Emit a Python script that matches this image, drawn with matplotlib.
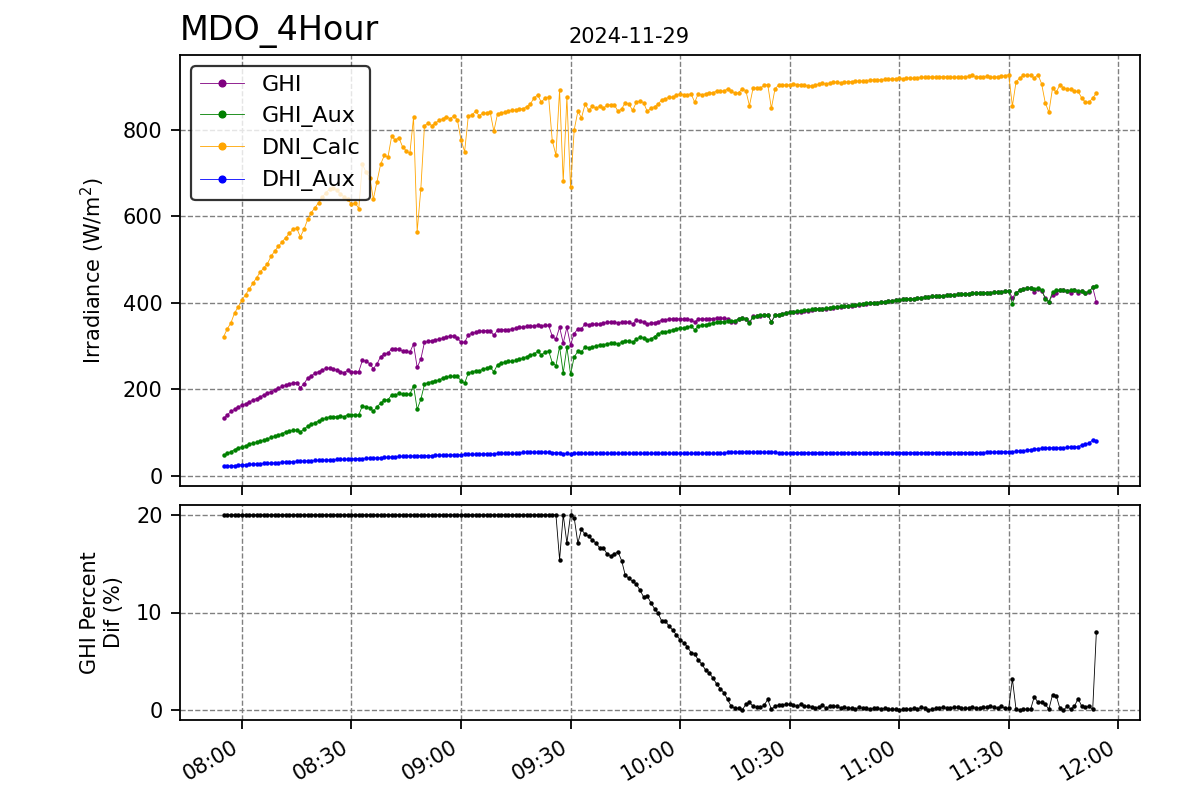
import matplotlib
matplotlib.use("Agg")
import matplotlib.pyplot as plt
import matplotlib.dates as mdates
import pandas as pd

# ---------------- data (one value per minute, 07:55 .. 11:54) ----------------
start_time = "2024-11-29 07:55"
n_points = 240
date_label = "2024-11-29"
station = "MDO_4Hour"

ghi = [
    133, 141, 149, 154, 160, 163, 167, 171, 175, 179,
    183, 187, 191, 195, 199, 203, 207, 210, 213, 215,
    216, 204, 213, 226, 231, 238, 241, 245, 249, 249,
    247, 245, 241, 239, 244, 240, 240, 241, 267, 266,
    259, 248, 259, 276, 282, 284, 294, 294, 293, 289,
    288, 286, 305, 251, 270, 309, 311, 313, 315, 316,
    318, 322, 323, 324, 319, 309, 309, 326, 330, 332,
    334, 336, 336, 336, 325, 337, 338, 338, 338, 340,
    342, 344, 344, 346, 346, 347, 348, 346, 348, 348,
    323, 316, 344, 307, 344, 303, 329, 340, 340, 352,
    348, 351, 351, 351, 354, 355, 356, 355, 354, 355,
    355, 356, 351, 360, 359, 355, 351, 354, 354, 357,
    360, 361, 363, 363, 363, 363, 363, 363, 361, 355,
    363, 363, 363, 364, 364, 365, 365, 365, 363, 357,
    357, 363, 365, 363, 355, 369, 369, 370, 371, 372,
    357, 371, 373, 375, 377, 378, 378, 379, 380, 381,
    382, 383, 385, 386, 386, 387, 388, 389, 390, 391,
    392, 393, 394, 395, 396, 397, 398, 399, 400, 401,
    402, 403, 404, 405, 406, 407, 408, 409, 410, 410,
    411, 412, 413, 414, 415, 415, 416, 417, 418, 418,
    419, 420, 420, 421, 421, 422, 422, 423, 423, 424,
    424, 425, 425, 426, 427, 428, 412, 423, 429, 432,
    434, 434, 425, 432, 428, 412, 403, 418, 423, 429,
    429, 427, 422, 429, 422, 427, 423, 426, 436, 402,
]

ghi_aux = [
    48, 52, 56, 61, 65, 67, 70, 73, 76, 78,
    81, 83, 86, 89, 92, 95, 98, 102, 104, 106,
    106, 102, 108, 115, 119, 123, 127, 131, 133, 137,
    137, 137, 139, 137, 142, 142, 141, 141, 162, 160,
    158, 149, 160, 168, 176, 176, 187, 187, 191, 189,
    189, 189, 209, 154, 177, 212, 216, 218, 220, 222,
    226, 228, 230, 230, 230, 220, 214, 238, 241, 243,
    243, 247, 249, 251, 241, 257, 261, 263, 265, 265,
    267, 270, 272, 276, 280, 282, 288, 280, 286, 289,
    262, 255, 299, 238, 298, 235, 275, 288, 286, 299,
    296, 298, 301, 303, 303, 306, 307, 307, 305, 309,
    313, 311, 309, 316, 321, 319, 315, 317, 322, 329,
    332, 332, 336, 338, 340, 341, 342, 344, 346, 338,
    346, 348, 350, 352, 354, 355, 356, 357, 359, 359,
    359, 363, 365, 363, 354, 368, 369, 371, 371, 373,
    355, 371, 373, 375, 377, 378, 380, 381, 382, 383,
    384, 385, 386, 387, 387, 388, 389, 390, 391, 392,
    393, 394, 395, 396, 397, 398, 399, 400, 400, 401,
    402, 403, 404, 405, 406, 407, 408, 409, 410, 410,
    411, 412, 413, 414, 415, 415, 416, 417, 418, 418,
    419, 420, 420, 421, 421, 422, 422, 423, 423, 424,
    424, 425, 425, 426, 427, 428, 398, 423, 429, 432,
    434, 434, 432, 435, 431, 410, 402, 425, 429, 429,
    429, 427, 429, 429, 427, 427, 423, 427, 436, 439,
]

dni_calc = [
    322, 340, 354, 377, 391, 406, 419, 432, 445, 458,
    471, 481, 491, 508, 520, 531, 541, 551, 561, 570,
    573, 553, 570, 593, 609, 620, 632, 644, 655, 663,
    665, 660, 652, 645, 640, 628, 632, 618, 721, 702,
    690, 640, 680, 721, 741, 737, 785, 777, 782, 761,
    752, 746, 829, 565, 663, 810, 816, 810, 816, 822,
    826, 831, 826, 832, 824, 777, 750, 832, 835, 843,
    833, 839, 839, 841, 797, 837, 839, 841, 843, 846,
    846, 849, 849, 854, 860, 874, 881, 864, 874, 876,
    775, 742, 893, 681, 876, 667, 800, 843, 828, 860,
    845, 855, 850, 855, 850, 858, 858, 858, 843, 849,
    863, 860, 845, 864, 867, 863, 843, 850, 854, 860,
    870, 872, 876, 876, 880, 884, 881, 881, 884, 864,
    884, 881, 884, 886, 886, 890, 890, 890, 895, 890,
    885, 886, 895, 891, 856, 897, 897, 897, 903, 905,
    850, 895, 904, 904, 904, 904, 907, 905, 905, 903,
    902, 902, 903, 906, 908, 906, 909, 910, 911, 909,
    911, 911, 912, 913, 913, 913, 914, 915, 916, 916,
    916, 917, 917, 918, 918, 919, 918, 920, 920, 919,
    921, 922, 922, 922, 923, 922, 923, 923, 923, 922,
    922, 922, 922, 923, 924, 926, 923, 923, 922, 924,
    922, 922, 923, 924, 925, 928, 855, 911, 920, 926,
    926, 926, 920, 928, 907, 863, 841, 897, 887, 904,
    897, 894, 894, 889, 889, 874, 864, 864, 874, 885,
]

dhi_aux = [
    22, 23, 23, 24, 25, 26, 26, 27, 27, 28,
    28, 29, 29, 30, 30, 31, 32, 32, 33, 33,
    34, 34, 35, 35, 35, 36, 36, 36, 37, 37,
    37, 38, 38, 38, 39, 39, 40, 40, 40, 41,
    41, 41, 42, 42, 43, 43, 44, 44, 45, 45,
    45, 46, 46, 46, 47, 47, 47, 47, 48, 48,
    48, 48, 48, 49, 49, 49, 50, 50, 50, 50,
    50, 51, 51, 51, 51, 52, 52, 52, 52, 52,
    52, 52, 55, 55, 55, 55, 55, 55, 55, 55,
    54, 54, 53, 51, 53, 50, 52, 52, 52, 52,
    52, 52, 52, 52, 52, 52, 52, 52, 52, 52,
    52, 52, 52, 52, 52, 52, 52, 52, 52, 52,
    52, 52, 52, 52, 52, 52, 52, 52, 52, 52,
    52, 52, 52, 52, 52, 52, 52, 52, 55, 55,
    55, 55, 55, 55, 55, 55, 55, 55, 55, 55,
    55, 55, 53, 53, 52, 52, 54, 54, 54, 54,
    54, 54, 54, 54, 54, 54, 54, 54, 53, 54,
    54, 54, 54, 54, 54, 53, 54, 54, 54, 54,
    54, 54, 53, 54, 54, 54, 54, 54, 54, 54,
    54, 54, 53, 54, 54, 54, 54, 54, 54, 54,
    54, 54, 54, 54, 54, 54, 54, 54, 54, 55,
    55, 55, 56, 56, 56, 56, 56, 57, 58, 58,
    60, 61, 62, 63, 64, 65, 65, 65, 65, 65,
    65, 66, 67, 67, 68, 71, 73, 76, 83, 80,
]

ghi_pct_dif = [
    20, 20, 20, 20, 20, 20, 20, 20, 20, 20,
    20, 20, 20, 20, 20, 20, 20, 20, 20, 20,
    20, 20, 20, 20, 20, 20, 20, 20, 20, 20,
    20, 20, 20, 20, 20, 20, 20, 20, 20, 20,
    20, 20, 20, 20, 20, 20, 20, 20, 20, 20,
    20, 20, 20, 20, 20, 20, 20, 20, 20, 20,
    20, 20, 20, 20, 20, 20, 20, 20, 20, 20,
    20, 20, 20, 20, 20, 20, 20, 20, 20, 20,
    20, 20, 20, 20, 20, 20, 20, 20, 20, 20,
    20, 20, 15.4, 20, 17.1, 20, 19.7, 17.1, 18.5, 18.0,
    17.8, 17.4, 17.1, 16.6, 16.6, 16.0, 15.8, 16.0, 16.2, 15.3,
    13.8, 13.5, 13.2, 12.9, 12.3, 11.6, 11.7, 11.0, 10.4, 9.9,
    9.1, 9.1, 8.6, 8.2, 7.7, 7.2, 6.9, 6.5, 5.9, 5.8,
    5.1, 4.7, 4.1, 3.8, 3.3, 2.7, 2.2, 1.8, 1.1, 0.4,
    0.2, 0.2, 0.0, 0.6, 0.8, 0.4, 0.3, 0.3, 0.5, 1.1,
    0.1, 0.4, 0.5, 0.5, 0.6, 0.6, 0.5, 0.4, 0.6, 0.4,
    0.4, 0.3, 0.2, 0.3, 0.5, 0.2, 0.4, 0.4, 0.4, 0.2,
    0.3, 0.2, 0.2, 0.1, 0.3, 0.2, 0.2, 0.1, 0.2, 0.2,
    0.1, 0.2, 0.1, 0.1, 0.1, 0.0, 0.1, 0.1, 0.1, 0.2,
    0.1, 0.3, 0.2, 0.0, 0.1, 0.2, 0.2, 0.3, 0.2, 0.2,
    0.3, 0.3, 0.2, 0.2, 0.2, 0.3, 0.2, 0.2, 0.3, 0.3,
    0.4, 0.3, 0.2, 0.4, 0.2, 0.2, 3.2, 0.1, 0.0, 0.1,
    0.1, 0.1, 1.4, 0.8, 0.8, 0.6, 0.1, 1.6, 1.5, 0.2,
    0.0, 0.4, 0.1, 0.4, 1.2, 0.4, 0.3, 0.4, 0.1, 8.0,
]

times = pd.date_range(start_time, periods=n_points, freq="1min")

# ---------------- figure ----------------
plt.rcParams["font.family"] = ["DejaVu Sans"]
plt.rcParams["font.size"] = 15

fig = plt.figure(figsize=(12, 8), dpi=100)
ax1 = fig.add_axes([0.15, 0.3925, 0.80, 0.53875])
ax2 = fig.add_axes([0.15, 0.10, 0.80, 0.26875], sharex=ax1)

ms = 2.2
lw = 0.6
series = [
    (ghi, "purple", "GHI"),
    (ghi_aux, "green", "GHI_Aux"),
    (dni_calc, "orange", "DNI_Calc"),
    (dhi_aux, "blue", "DHI_Aux"),
]
for vals, col, lab in series:
    ax1.plot(times, vals, color=col, marker="o", markersize=ms, linewidth=lw, label=lab)

ax2.plot(times, ghi_pct_dif, color="black", marker="o", markersize=ms, linewidth=lw)

for ax in (ax1, ax2):
    ax.grid(True, linestyle="--", color="gray", linewidth=1.0)
    for sp in ax.spines.values():
        sp.set_linewidth(1.3)
    ax.tick_params(axis="both", which="major", length=6.5, width=1.3,
                   labelsize=15, pad=6)

ax1.tick_params(labelbottom=False)
ax2.xaxis.set_major_locator(mdates.MinuteLocator(byminute=[0, 30]))
ax2.xaxis.set_major_formatter(mdates.DateFormatter("%H:%M"))
for lbl in ax2.get_xticklabels():
    lbl.set_rotation(30)
    lbl.set_ha("right")

ax1.set_yticks([0, 200, 400, 600, 800])
ax2.set_yticks([0, 10, 20])

ax1.set_ylabel("Irradiance (W/m$^2$)", fontsize=15, labelpad=11)
ax2.set_ylabel("GHI Percent\nDif (%)", fontsize=15, labelpad=9)

ax1.set_title(station, loc="left", fontsize=24, pad=11)
fig.text(629 / 1200, 1 - 43 / 800, date_label, ha="center", va="baseline", fontsize=15)

leg = ax1.legend(loc="upper left", fontsize=16, markerscale=2.2,
                 edgecolor="black", framealpha=0.8, fancybox=True)
leg.get_frame().set_linewidth(1.6)

fig.savefig("out.png", dpi=100)
